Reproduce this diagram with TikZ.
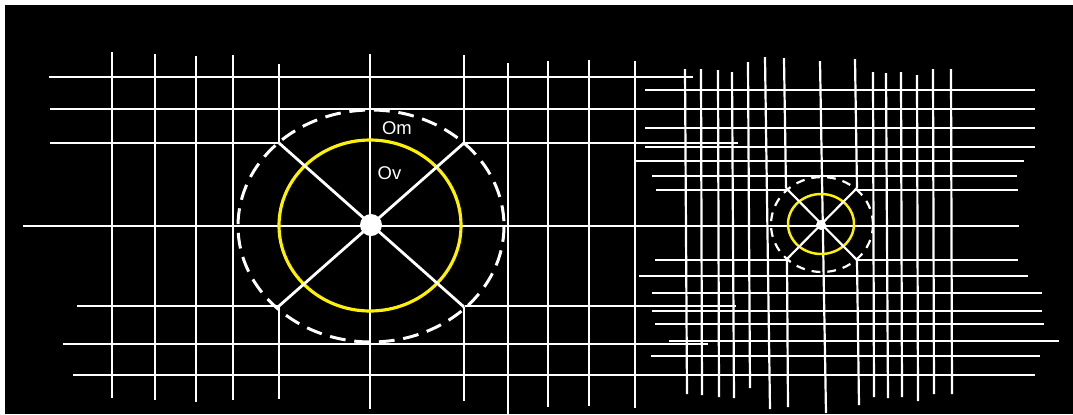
\documentclass[tikz,border=0pt]{standalone}
\usepackage{fontspec}
\setmainfont{Liberation Sans}
\usepackage{tikz}

\begin{document}
\begin{tikzpicture}[x=0.02cm, y=-0.02cm,
    wire/.style={white, line width=1.6pt},
    finewire/.style={white, line width=1.25pt},
    ring/.style={yellow, line width=1.8pt},
    zone/.style={white, line width=1.7pt, dash pattern=on 9pt off 5pt},
    smallzone/.style={white, line width=1.25pt, dash pattern=on 5pt off 4pt},
    every node/.style={white, inner sep=0pt, font=\fontsize{10.5}{12}\selectfont}]
      % frame
      \useasboundingbox (0,0) rectangle (1073,414);
      \fill[white] (0,0) rectangle (1073,414);
      \fill[black] (5,5) rectangle (1073,414);
      % coarse mesh, horizontal bars
      \foreach \y/\a/\b in {77/49/693, 109/50/695, 143/50/279, 143/463/738,
          226/23/1019, 306/77/279, 306/465/736, 344/63/708, 375/73/1035}
        \draw[wire] (\a,\y) -- (\b,\y);
      % coarse mesh, vertical bars
      \foreach \x/\a/\b in {112/52/398, 155/54/400, 196/56/402, 233/55/400,
          279/64/143, 279/306/399, 370/54/409, 464/55/143, 464/307/401,
          508/63/414, 548/61/407, 589/60/406, 635/61/408}
        \draw[wire] (\x,\a) -- (\x,\b);
      % fine mesh, horizontal bars
      \foreach \y/\a/\b in {90/645/1035, 109/645/1035, 128/645/1035, 147/645/1035,
          161/636/1024, 176/652/1017, 190/656/786, 190/857/1018,
          260/655/786, 260/857/1018, 276/639/1028, 293/652/1042,
          311/652/1042, 324/655/1044, 341/669/1059, 356/651/1040}
        \draw[finewire] (\a,\y) -- (\b,\y);
      % fine mesh, vertical bars (slightly leaning)
      \foreach \p/\a/\q/\b in {685/69/687/394, 701/69/702/395, 718/70/719/397,
          732/72/734/398, 748/62/750/388, 765/57/770/409, 784/58/786/188,
          787/260/788/407, 820/61/826/413, 855/59/857/188, 857/260/859/405,
          873/72/874/397, 886/73/888/398, 901/72/902/397, 917/75/918/401,
          933/69/934/394, 951/69/952/394}
        \draw[finewire] (\p,\a) -- (\q,\b);
      % coarse anchorage
      \draw[zone] (371,226) ellipse [x radius=133, y radius=116];
      \draw[ring] (370,225.5) ellipse [x radius=91, y radius=85.5];
      \draw[wire] (279,143) -- (464,307);
      \draw[wire] (464,143) -- (279,306);
      \fill[white] (371,225) circle [radius=11];
      \node (om) at (397,128.5) {Om};
      \node (ov) at (389.5,173.5) {Ov};
      % fine anchorage
      \draw[smallzone] (822,224.5) ellipse [x radius=51, y radius=47.5];
      \draw[ring, line width=1.4pt] (821,224) ellipse [x radius=33, y radius=30];
      \draw[finewire] (786,188) -- (857,260);
      \draw[finewire] (857,188) -- (786,260);
      \fill[white] (821,225) circle [radius=5];
    \end{tikzpicture}
\end{document}
